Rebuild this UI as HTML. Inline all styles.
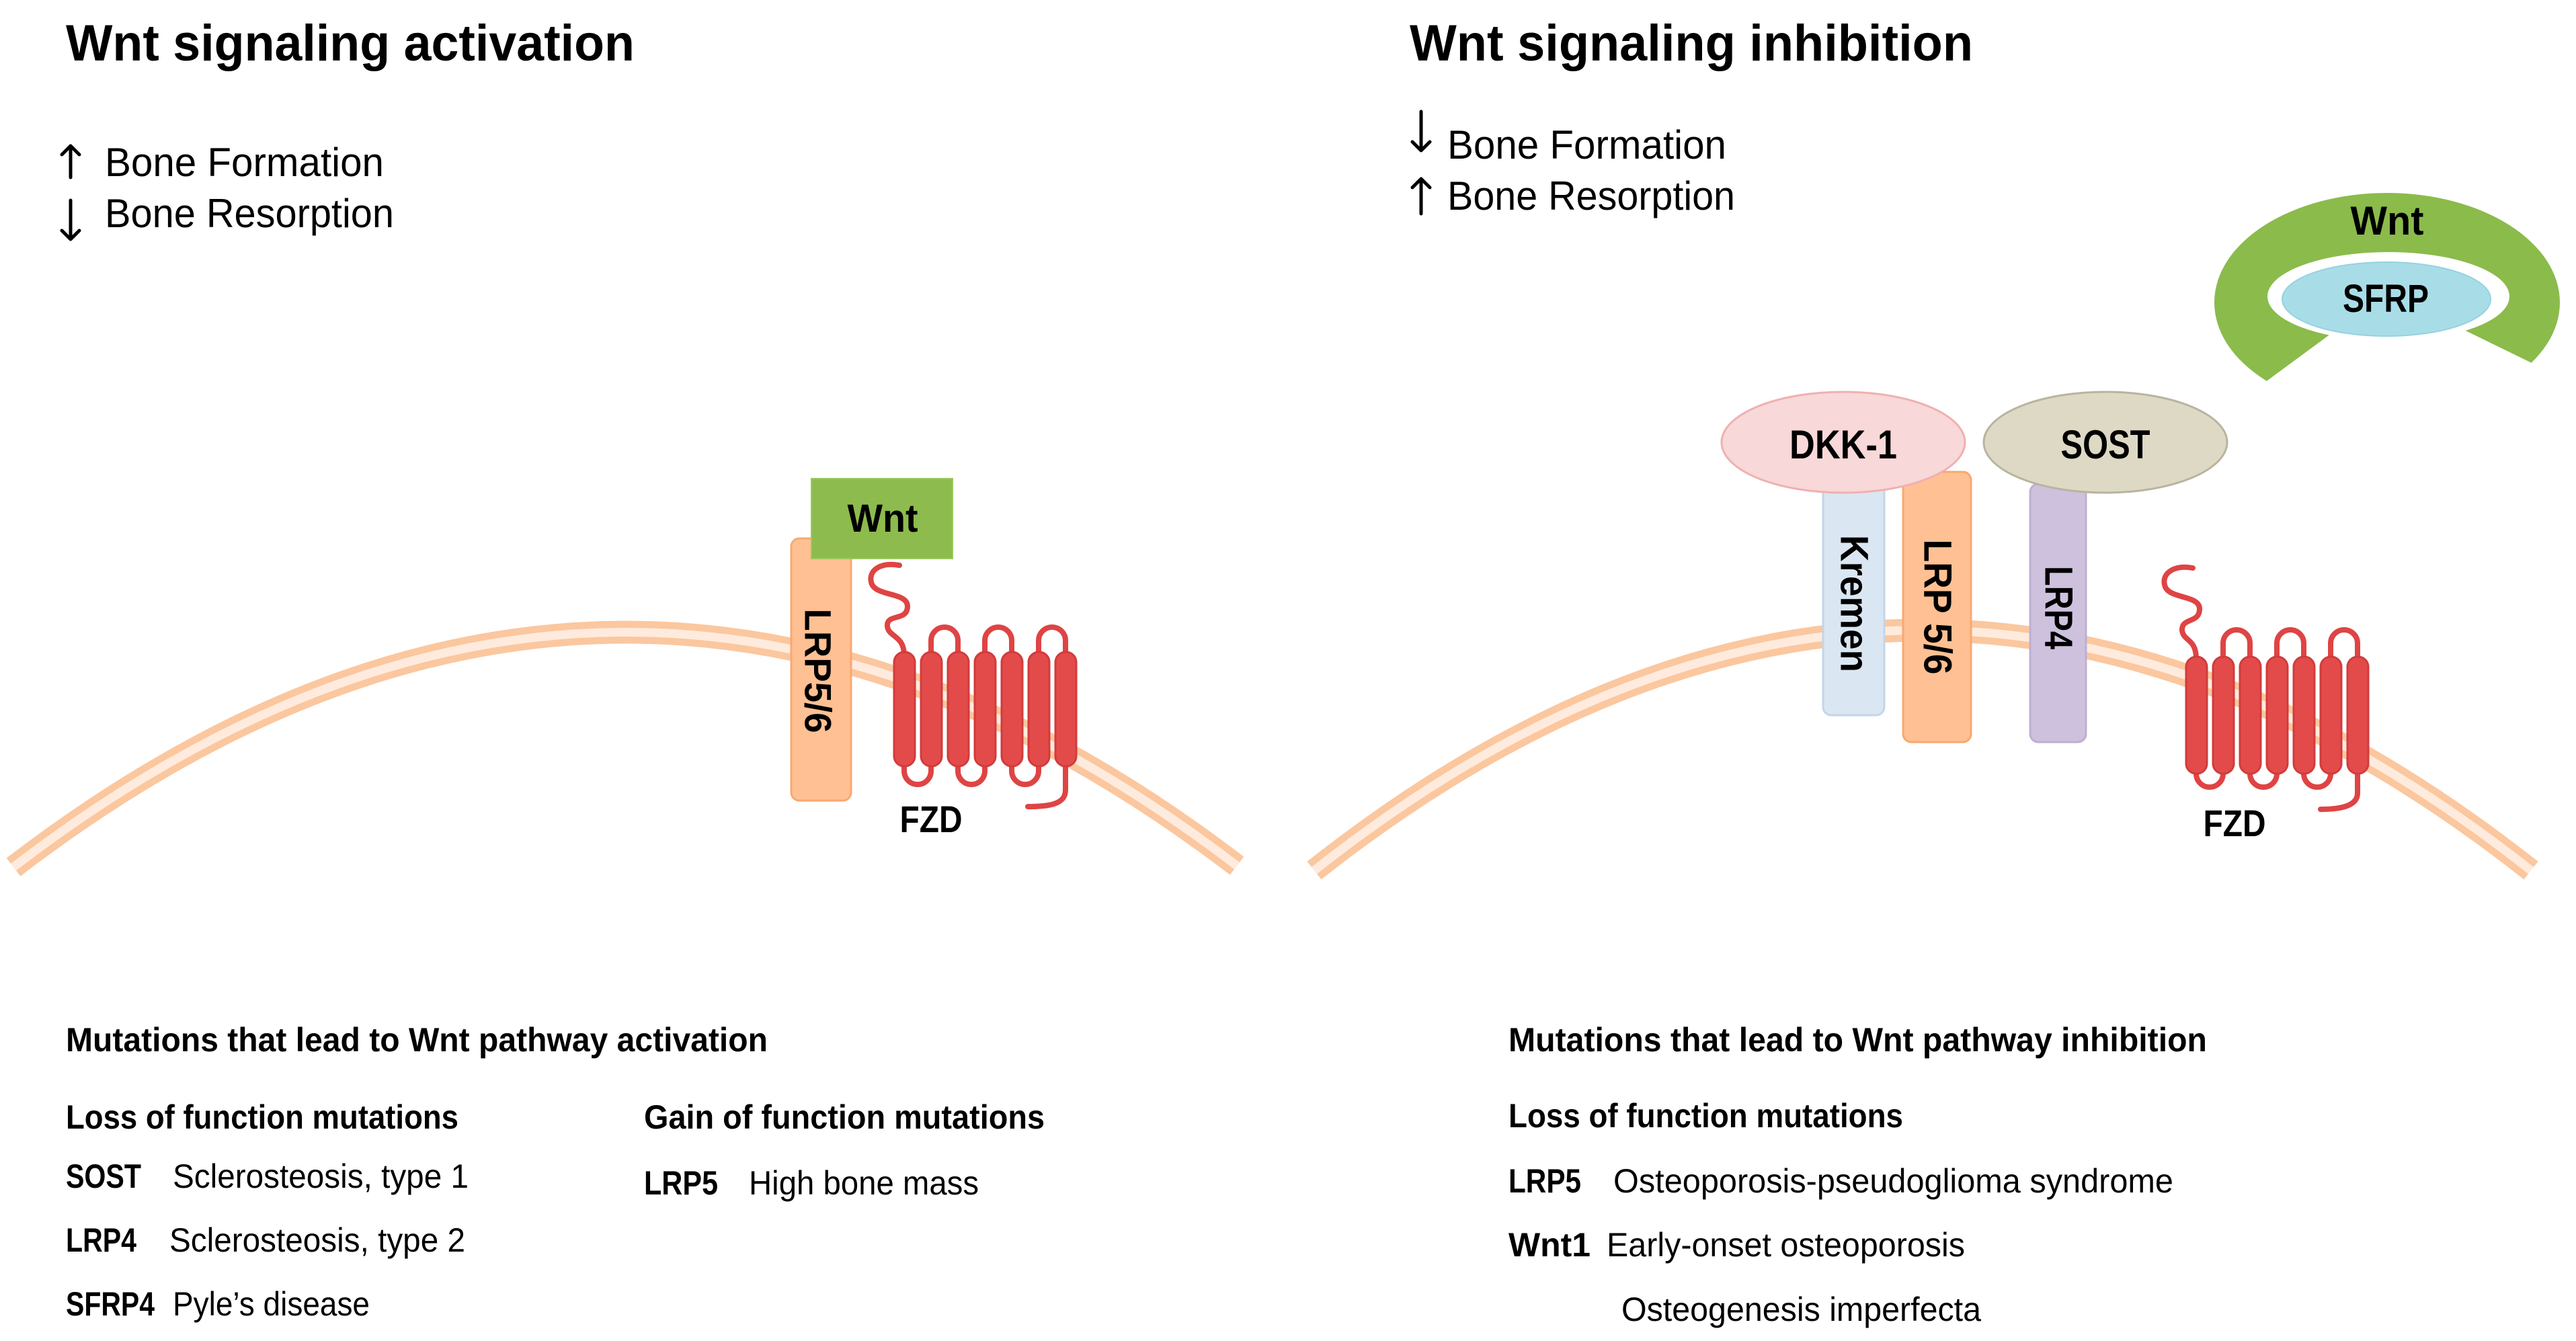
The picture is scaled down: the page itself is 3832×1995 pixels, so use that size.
<!DOCTYPE html>
<html><head><meta charset="utf-8"><style>
html,body{margin:0;padding:0;background:#fff;}
svg{display:block;}
text{font-family:"Liberation Sans",sans-serif;fill:#000;}
.b{font-weight:bold;}
</style></head><body>
<svg width="3832" height="1995" viewBox="0 0 3832 1995" xmlns="http://www.w3.org/2000/svg">
<rect width="3832" height="1995" fill="#fff"/>
<!-- Titles -->
<text class="b" x="98" y="90" font-size="76" textLength="846" lengthAdjust="spacingAndGlyphs">Wnt signaling activation</text>
<text class="b" x="2097" y="90" font-size="76" textLength="838" lengthAdjust="spacingAndGlyphs">Wnt signaling inhibition</text>
<!-- arrows -->
<g stroke="#000" stroke-width="5" fill="none" stroke-linecap="round" stroke-linejoin="round">
<path d="M105,264 L105,217 M92,230 L105,217 L118,230"/>
<path d="M105,298 L105,356 M92,343 L105,356 L118,343"/>
<path d="M2114,166 L2114,224 M2101,211 L2114,224 L2127,211"/>
<path d="M2114,318 L2114,266 M2101,279 L2114,266 L2127,279"/>
</g>
<text x="156" y="262" font-size="60" textLength="415" lengthAdjust="spacingAndGlyphs">Bone Formation</text>
<text x="156" y="338" font-size="60" textLength="430" lengthAdjust="spacingAndGlyphs">Bone Resorption</text>
<text x="2153" y="236" font-size="60" textLength="415" lengthAdjust="spacingAndGlyphs">Bone Formation</text>
<text x="2153" y="312" font-size="60" textLength="428" lengthAdjust="spacingAndGlyphs">Bone Resorption</text>

<!-- membranes -->
<g fill="none">
<path d="M20,1290 Q930,592 1840,1288" stroke="#FBC79F" stroke-width="34"/>
<path d="M20,1290 Q930,592 1840,1288" stroke="#FFEBDD" stroke-width="13"/>
<path d="M1955,1295 Q2860,580 3765,1295" stroke="#FBC79F" stroke-width="34"/>
<path d="M1955,1295 Q2860,580 3765,1295" stroke="#FFEBDD" stroke-width="13"/>
</g>

<!-- LEFT: LRP5/6 and Wnt -->
<rect x="1177" y="801" width="89" height="390" rx="12" fill="#FFC093" stroke="#F9A870" stroke-width="3"/>
<text class="b" font-size="56" text-anchor="middle" dominant-baseline="central" transform="translate(1217,998) rotate(90)" textLength="185" lengthAdjust="spacingAndGlyphs">LRP5/6</text>
<rect x="1207" y="712" width="210" height="119" fill="#8DBB4D" stroke="#9CC760" stroke-width="2"/>
<text class="b" x="1313" y="791" font-size="58" text-anchor="middle" textLength="105" lengthAdjust="spacingAndGlyphs">Wnt</text>

<!-- LEFT FZD -->
<g fill="none" stroke="#DF4444" stroke-width="8" stroke-linecap="round">
<path d="M1338,841 C1310,836 1292,848 1296,866 C1300,888 1350,880 1350,902 C1350,925 1318,912 1320,932 C1322,948 1345,945 1345,975"/>
<path d="M1385,975 L1385,953 A20,20 0 0 1 1425,953 L1425,975"/>
<path d="M1465,975 L1465,953 A20,20 0 0 1 1505,953 L1505,975"/>
<path d="M1545,975 L1545,953 A20,20 0 0 1 1585,953 L1585,975"/>
<path d="M1345,1135 L1345,1147 A20,20 0 0 0 1385,1147 L1385,1135"/>
<path d="M1425,1135 L1425,1147 A20,20 0 0 0 1465,1147 L1465,1135"/>
<path d="M1505,1135 L1505,1147 A20,20 0 0 0 1545,1147 L1545,1135"/>
<path d="M1585,1135 L1585,1175 C1585,1195 1565,1200 1529,1200"/>
</g>
<g fill="#E34B4B" stroke="#D23B3B" stroke-width="3">
<rect x="1330" y="970" width="31" height="170" rx="15"/>
<rect x="1370" y="970" width="31" height="170" rx="15"/>
<rect x="1410" y="970" width="31" height="170" rx="15"/>
<rect x="1450" y="970" width="31" height="170" rx="15"/>
<rect x="1490" y="970" width="31" height="170" rx="15"/>
<rect x="1530" y="970" width="31" height="170" rx="15"/>
<rect x="1570" y="970" width="31" height="170" rx="15"/>
</g>
<text class="b" x="1385" y="1238" font-size="56" text-anchor="middle" textLength="93" lengthAdjust="spacingAndGlyphs">FZD</text>

<!-- RIGHT: Wnt / SFRP crescent -->
<ellipse cx="3551" cy="450" rx="257" ry="163" fill="#8BBB4B"/>
<ellipse cx="3553" cy="441" rx="180" ry="66" fill="#fff"/>
<polygon points="3551,435 3055,800 4299,800" fill="#fff"/>
<ellipse cx="3550" cy="445" rx="155" ry="55" fill="#A8DDE8" stroke="#95D2E0" stroke-width="2"/>
<text class="b" x="3551" y="349" font-size="60" text-anchor="middle" textLength="109" lengthAdjust="spacingAndGlyphs">Wnt</text>
<text class="b" x="3549" y="464" font-size="58" text-anchor="middle" textLength="128" lengthAdjust="spacingAndGlyphs">SFRP</text>

<!-- Right receptors -->
<rect x="2831" y="702" width="101" height="402" rx="12" fill="#FFC093" stroke="#F9A870" stroke-width="3"/>
<rect x="2712" y="720" width="91" height="344" rx="12" fill="#DAE6F2" stroke="#C3D5E8" stroke-width="3"/>
<rect x="3020" y="720" width="83" height="384" rx="12" fill="#CDC1DD" stroke="#BDAFD0" stroke-width="3"/>
<ellipse cx="2742" cy="658" rx="181" ry="75" fill="#F8D8D8" stroke="#F0B0B0" stroke-width="3"/>
<ellipse cx="3132" cy="658" rx="181" ry="75" fill="#DDD9C4" stroke="#B8B4A0" stroke-width="3"/>
<text class="b" x="2742" y="682" font-size="60" text-anchor="middle" textLength="160" lengthAdjust="spacingAndGlyphs">DKK-1</text>
<text class="b" x="3132" y="682" font-size="60" text-anchor="middle" textLength="133" lengthAdjust="spacingAndGlyphs">SOST</text>
<text class="b" font-size="58" text-anchor="middle" dominant-baseline="central" transform="translate(2758,898) rotate(90)" textLength="204" lengthAdjust="spacingAndGlyphs">Kremen</text>
<text class="b" font-size="58" text-anchor="middle" dominant-baseline="central" transform="translate(2882,903) rotate(90)" textLength="201" lengthAdjust="spacingAndGlyphs">LRP 5/6</text>
<text class="b" font-size="58" text-anchor="middle" dominant-baseline="central" transform="translate(3062,904) rotate(90)" textLength="124" lengthAdjust="spacingAndGlyphs">LRP4</text>

<!-- RIGHT FZD -->
<g fill="none" stroke="#DF4444" stroke-width="8" stroke-linecap="round">
<path d="M3262,845 C3235,840 3216,852 3220,870 C3224,892 3272,884 3272,906 C3272,928 3245,918 3246,938 C3248,954 3267,950 3267,980"/>
<path d="M3307,980 L3307,957 A20,20 0 0 1 3347,957 L3347,980"/>
<path d="M3387,980 L3387,957 A20,20 0 0 1 3427,957 L3427,980"/>
<path d="M3467,980 L3467,957 A20,20 0 0 1 3507,957 L3507,980"/>
<path d="M3267,1146 L3267,1151 A20,20 0 0 0 3307,1151 L3307,1146"/>
<path d="M3347,1146 L3347,1151 A20,20 0 0 0 3387,1151 L3387,1146"/>
<path d="M3427,1146 L3427,1151 A20,20 0 0 0 3467,1151 L3467,1146"/>
<path d="M3507,1146 L3507,1180 C3507,1198 3485,1204 3452,1204"/>
</g>
<g fill="#E34B4B" stroke="#D23B3B" stroke-width="3">
<rect x="3252" y="977" width="31" height="174" rx="15"/>
<rect x="3292" y="977" width="31" height="174" rx="15"/>
<rect x="3332" y="977" width="31" height="174" rx="15"/>
<rect x="3372" y="977" width="31" height="174" rx="15"/>
<rect x="3412" y="977" width="31" height="174" rx="15"/>
<rect x="3452" y="977" width="31" height="174" rx="15"/>
<rect x="3492" y="977" width="31" height="174" rx="15"/>
</g>
<text class="b" x="3324" y="1244" font-size="56" text-anchor="middle" textLength="93" lengthAdjust="spacingAndGlyphs">FZD</text>

<!-- Bottom text left -->
<g font-size="50">
<text class="b" x="98" y="1564" textLength="1044" lengthAdjust="spacingAndGlyphs">Mutations that lead to Wnt pathway activation</text>
<text class="b" x="98" y="1679" textLength="584" lengthAdjust="spacingAndGlyphs">Loss of function mutations</text>
<text class="b" x="958" y="1679" textLength="596" lengthAdjust="spacingAndGlyphs">Gain of function mutations</text>
<text class="b" x="98" y="1767" textLength="112" lengthAdjust="spacingAndGlyphs">SOST</text>
<text x="257" y="1767" textLength="440" lengthAdjust="spacingAndGlyphs">Sclerosteosis, type 1</text>
<text class="b" x="98" y="1862" textLength="105" lengthAdjust="spacingAndGlyphs">LRP4</text>
<text x="252" y="1862" textLength="440" lengthAdjust="spacingAndGlyphs">Sclerosteosis, type 2</text>
<text class="b" x="98" y="1957" textLength="132" lengthAdjust="spacingAndGlyphs">SFRP4</text>
<text x="257" y="1957" textLength="293" lengthAdjust="spacingAndGlyphs">Pyle’s disease</text>
<text class="b" x="958" y="1777" textLength="110" lengthAdjust="spacingAndGlyphs">LRP5</text>
<text x="1114" y="1777" textLength="342" lengthAdjust="spacingAndGlyphs">High bone mass</text>
<!-- right -->
<text class="b" x="2244" y="1564" textLength="1039" lengthAdjust="spacingAndGlyphs">Mutations that lead to Wnt pathway inhibition</text>
<text class="b" x="2244" y="1677" textLength="587" lengthAdjust="spacingAndGlyphs">Loss of function mutations</text>
<text class="b" x="2244" y="1774" textLength="108" lengthAdjust="spacingAndGlyphs">LRP5</text>
<text x="2400" y="1774" textLength="833" lengthAdjust="spacingAndGlyphs">Osteoporosis-pseudoglioma syndrome</text>
<text class="b" x="2244" y="1869" textLength="122" lengthAdjust="spacingAndGlyphs">Wnt1</text>
<text x="2390" y="1869" textLength="533" lengthAdjust="spacingAndGlyphs">Early-onset osteoporosis</text>
<text x="2412" y="1965" textLength="535" lengthAdjust="spacingAndGlyphs">Osteogenesis imperfecta</text>
</g>
</svg>
</body></html>
